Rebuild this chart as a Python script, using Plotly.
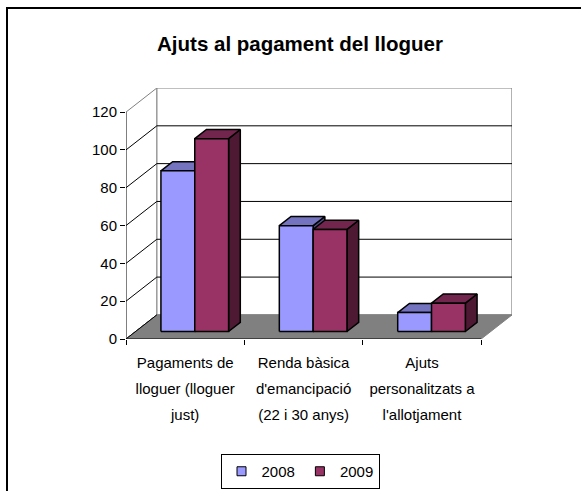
import plotly.graph_objects as go

# ---- data ----
categories = ["Pagaments de<br>lloguer (lloguer<br>just)",
              "Renda bàsica<br>d'emancipació<br>(22 i 30 anys)",
              "Ajuts<br>personalitzats a<br>l'allotjament"]
series_names = ["2008", "2009"]
values_2008 = [85, 56, 10]
values_2009 = [102, 54, 15]
y_ticks = [0, 20, 40, 60, 80, 100, 120]

# ---- style / 3D projection parameters ----
FONT = "Liberation Sans, Arial, sans-serif"
DX, DY = 0.2605, 12.74          # oblique depth offset (x in category units, y in value units)
D0, D1 = 0.31, 0.69             # bar depth span (fraction of floor depth)
BAR_W = 2 / 7
BAR_OFF = 3 / 14
YMAX = 120
NCAT = len(categories)

face_colors = [
    dict(front="#9999FF", top="#7373BF", side="#4C4C80"),
    dict(front="#993366", top="#73264D", side="#4D1933"),
]

fig = go.Figure()


def poly(xs, ys, fill, line_color="black", width=1.5):
    fig.add_trace(go.Scatter(x=xs + [xs[0]], y=ys + [ys[0]], mode="lines", fill="toself",
                             fillcolor=fill, line=dict(color=line_color, width=width),
                             hoverinfo="skip", showlegend=False))


def seg(x0, y0, x1, y1, color="black", width=1):
    fig.add_trace(go.Scatter(x=[x0, x1], y=[y0, y1], mode="lines",
                             line=dict(color=color, width=width),
                             hoverinfo="skip", showlegend=False))


# back wall
poly([DX, NCAT + DX, NCAT + DX, DX], [DY, DY, YMAX + DY, YMAX + DY], "white", "#808080", 1.2)
# back wall gridlines and side-wall gridlines
for v in y_ticks:
    if 0 < v < YMAX:
        seg(DX, v + DY, NCAT + DX, v + DY, "black", 1)
    seg(0, v, DX, v + DY, "#808080" if v == YMAX else "black", 1)

# floor
poly([0, NCAT, NCAT + DX, DX], [0, 0, DY, DY], "#808080", "#808080", 1)
seg(0, 0, DX, DY, "black", 1)

# bars
series_values = [values_2008, values_2009]
for i in range(NCAT):
    for s, vals in enumerate(series_values):
        h = vals[i]
        c = face_colors[s]
        x0 = i + BAR_OFF + s * BAR_W
        x1 = x0 + BAR_W
        fx0, fx1, fy = x0 + D0 * DX, x1 + D0 * DX, D0 * DY
        bx1, by = x1 + D1 * DX, D1 * DY
        # right side
        poly([fx1, bx1, bx1, fx1], [fy, by, h + by, h + fy], c["side"])
        # top
        poly([fx0, fx1, bx1, x0 + D1 * DX], [h + fy, h + fy, h + by, h + by], c["top"])
        # front
        poly([fx0, fx1, fx1, fx0], [fy, fy, h + fy, h + fy], c["front"])

# front axes lines
seg(0, 0, 0, YMAX, "black", 1)
seg(0, 0, NCAT, 0, "black", 1)

# legend entries
for s, name in enumerate(series_names):
    fig.add_trace(go.Scatter(x=[None], y=[None], mode="markers", name=name,
                             marker=dict(symbol="square", size=9, color=face_colors[s]["front"],
                                         line=dict(color="black", width=1))))

tick_text = ["<br>".join(f"<span style='font-size:15px'>{ln}</span>" for ln in c.split("<br>"))
             for c in categories]

fig.update_layout(
    width=581, height=491,
    margin=dict(l=126, r=69, t=88, b=152, autoexpand=False),
    paper_bgcolor="white", plot_bgcolor="rgba(0,0,0,0)",
    font=dict(family=FONT, color="black", size=15),
    title=dict(text="<b>Ajuts al pagament del lloguer</b>", x=300 / 581, xref="container",
               xanchor="center", y=1 - 44 / 491, yref="container", yanchor="middle",
               font=dict(family=FONT, size=20.5, color="black")),
    xaxis=dict(range=[0, NCAT + DX], showgrid=False, zeroline=False, showline=False,
               automargin=False,
               tickmode="array", tickvals=[i + 0.5 for i in range(NCAT)], ticktext=tick_text,
               ticks="", ticklabelstandoff=8,
               tickfont=dict(family=FONT, size=20, color="black"),
               minor=dict(tickmode="array", tickvals=list(range(NCAT + 1)), ticks="outside",
                          ticklen=5, tickcolor="black", tickwidth=1, showgrid=False),
               fixedrange=True),
    yaxis=dict(range=[0, YMAX + DY], showgrid=False, zeroline=False, showline=False,
               automargin=False,
               tickmode="array", tickvals=y_ticks, ticks="outside", ticklen=5,
               tickcolor="black", tickwidth=1,
               tickfont=dict(family=FONT, size=15, color="black"), fixedrange=True),
    legend=dict(orientation="h", xref="container", x=300 / 581, xanchor="center",
                yref="container", y=1 - 454 / 491, yanchor="top",
                bordercolor="black", borderwidth=1, bgcolor="white",
                font=dict(family=FONT, size=15, color="black"), itemclick=False),
    shapes=[dict(type="rect", xref="paper", yref="paper",
                 x0=(7 - 126) / 386, x1=(600 - 126) / 386,
                 y0=(339 - 510) / 251, y1=(339 - 8) / 251,
                 line=dict(color="black", width=2), fillcolor="rgba(0,0,0,0)", layer="below")],
)

fig.write_html("out.html", config={"displayModeBar": False},
               post_script="document.body.style.margin='0';")
